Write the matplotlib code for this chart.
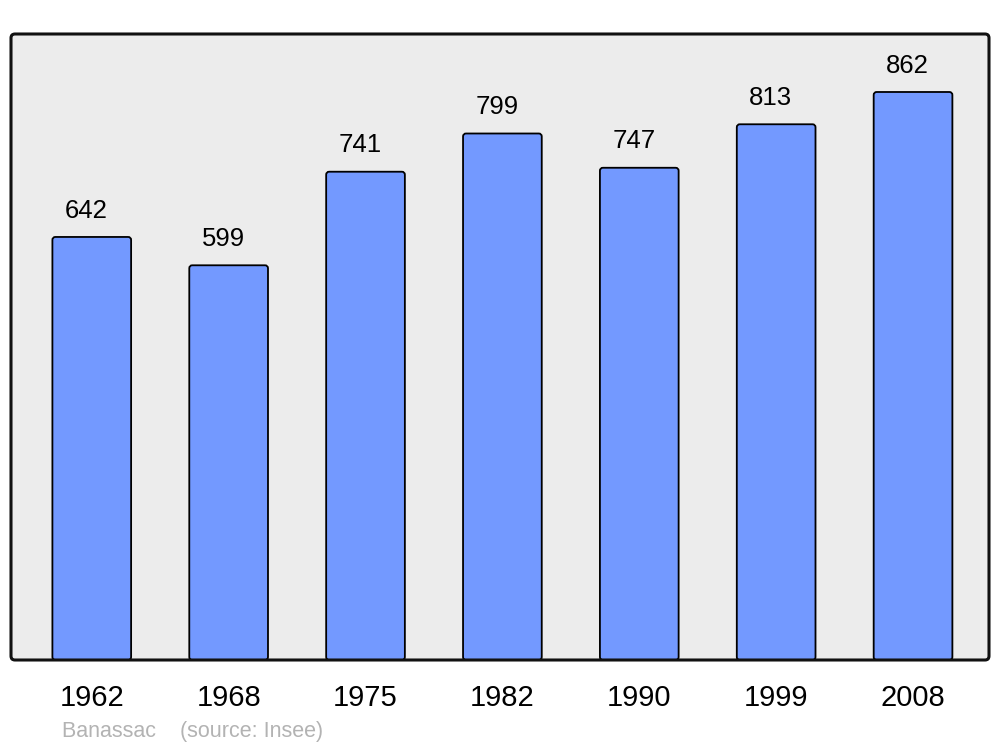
import matplotlib
matplotlib.use("Agg")
import matplotlib.pyplot as plt
from matplotlib.patches import FancyBboxPatch

years = ["1962", "1968", "1975", "1982", "1990", "1999", "2008"]
population = [642, 599, 741, 799, 747, 813, 862]

plt.rcParams['font.family'] = ['Liberation Sans', 'DejaVu Sans']

W, H = 1000, 747
fig = plt.figure(figsize=(10, 7.47), dpi=100)
ax_l, ax_b = 11 / W, 1 - 660 / H
ax_w, ax_h = 978 / W, 626 / H
ax = fig.add_axes([ax_l, ax_b, ax_w, ax_h])
ax.set_facecolor('none')
ax.set_zorder(1)

x = list(range(len(years)))
xlim = (-0.59, 6.555)
ylim = (0, 950)
ax.set_xlim(*xlim)
ax.set_ylim(*ylim)

# background frame with rounded corners (figure coords)
frame = FancyBboxPatch((ax_l, ax_b), ax_w, ax_h,
                       boxstyle="round,pad=0,rounding_size=0.004",
                       mutation_aspect=W / H,
                       transform=fig.transFigure, facecolor='#ececec',
                       edgecolor='none', linewidth=0, zorder=-2)
fig.patches.append(frame)
frame_edge = FancyBboxPatch((ax_l, ax_b), ax_w, ax_h,
                            boxstyle="round,pad=0,rounding_size=0.004",
                            mutation_aspect=W / H,
                            transform=fig.transFigure, facecolor='none',
                            edgecolor='#111111', linewidth=2.2, zorder=5)
fig.patches.append(frame_edge)

bars = ax.bar(x, population, width=0.575, color='#7399ff', edgecolor='black',
              linewidth=1.3, zorder=2)
# replace with rounded-corner versions
px_per_x = 978 / (xlim[1] - xlim[0])
px_per_y = 626 / (ylim[1] - ylim[0])
r_px = 3.0
for b in bars:
    b.set_visible(False)
    p = FancyBboxPatch((b.get_x(), b.get_y()), b.get_width(), b.get_height(),
                       boxstyle=f"round,pad=0,rounding_size={r_px / px_per_x}",
                       mutation_aspect=px_per_x / px_per_y,
                       facecolor='#7399ff', edgecolor='black', linewidth=1.3,
                       zorder=2, clip_on=True)
    ax.add_patch(p)

for xi, v in zip(x, population):
    ax.annotate(str(v), xy=(xi, v), xytext=(-3.9, 19.0), textcoords='offset points',
                ha='center', va='center', fontsize=18.5, color='black')

ax.set_xticks(x)
ax.set_xticklabels(years, fontsize=21)
ax.tick_params(axis='x', length=0, pad=17)
ax.set_yticks([])
for s in ax.spines.values():
    s.set_visible(False)

fig.text(0.062, 1 - 732 / H, "Banassac    (source: Insee)", fontsize=15.5, color='#b3b3b3',
         ha='left', va='center')

fig.savefig("out.png", dpi=100)
